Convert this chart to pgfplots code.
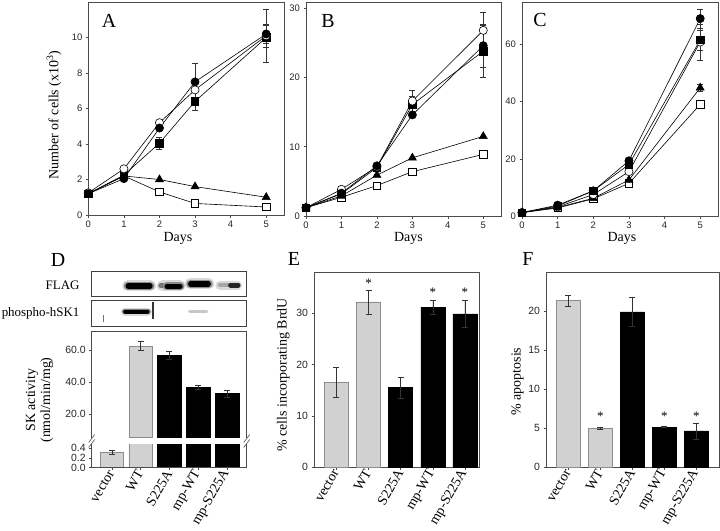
\documentclass[border=0pt]{standalone}
\usepackage{pgfplots}
\pgfplotsset{compat=1.18}
\usepackage{fontspec}
\setmainfont{Liberation Serif}
\newfontfamily\arial{Liberation Sans}
\pgfplotsset{
  basestyle/.style={scale only axis, anchor=north west,
    axis line style={black!70, line width=0.6bp},
    every tick/.style={black!70, line width=0.5bp},
    tick align=outside, major tick length=2.5bp,
    xtick pos=bottom, ytick pos=left,
    /pgf/number format/assume math mode=true,
    tick label style={font=\arial\fontsize{9.5}{11}\selectfont, text=black!85},
  },
  oc/.style={black, line width=0.6bp, mark=*, mark size=4.1bp, mark options={solid, fill=white}},
  fc/.style={black, line width=0.6bp, mark=*, mark size=4.1bp, mark options={solid, fill=black}},
  fs/.style={black, line width=0.6bp, mark=square*, mark size=3.7bp, mark options={solid, fill=black}},
  tr/.style={black, line width=0.6bp, mark=triangle*, mark size=4.6bp, mark options={solid, fill=black}},
  os/.style={black, line width=0.6bp, mark=square*, mark size=3.7bp, mark options={solid, fill=white}},
  errp/.style={forget plot, draw=none, mark=none, error bars/.cd, y dir=both, y explicit,
    error bar style={draw=black!80, line width=0.5bp},
    error mark options={rotate=90, mark size=3bp, draw=black!80, line width=0.5bp}},
  barax/.style={basestyle, xtick={0,...,4}, xticklabels={vector,WT,S225A,mp-WT,mp-S225A},
    tick label style={font=\arial\fontsize{10.5}{12}\selectfont},
    xticklabel style={rotate=60, anchor=east, font=\fontsize{14}{16}\selectfont, text=black, inner sep=1bp}},
  barerr/.style={error bars/.cd, y dir=both, y explicit,
    error bar style={draw=black!80, line width=0.5bp},
    error mark options={rotate=90, mark size=3bp, draw=black!80, line width=0.5bp}},
  graybar/.style={ybar, bar shift=0pt, bar width=#1, fill=black!18, draw=black!45, line width=0.5bp, barerr},
  graybar/.default=24bp,
  blackbar/.style={ybar, bar shift=0pt, bar width=#1, fill=black, draw=black, line width=0.5bp, barerr},
  blackbar/.default=24bp,
  star/.style={draw=none, mark=none, nodes near coords={*},
    every node near coord/.append style={anchor=center, font=\fontsize{13}{13}\selectfont, inner sep=0pt}},
  halo/.style={black!15, line width=#1, line cap=round},
}
\begin{document}
\begin{tikzpicture}[x=1bp,y=1bp]
\path[use as bounding box] (0,0) rectangle (720,-531);

% ---------------- A ----------------
\begin{axis}[basestyle, at={(88.3bp,-2bp)}, width=195.7bp, height=213bp,
  xmin=0, xmax=5.5, ymin=0, ymax=12, xtick={0,...,5}, ytick={0,2,...,10}]
\addplot[errp] coordinates {(2,4.05) +- (0,0.35) (3,6.4) +- (0,0.5) (3,7.5) +- (0,1.05)
  (5,10.1) +- (0,1.5) (5,10.2) +- (0,0.5) (5,10.1) +- (0,0.65)};
\addplot[os] coordinates {(0,1.2) (1,2.2) (2,1.3) (3,0.65) (5,0.45)};
\addplot[tr] coordinates {(0,1.2) (1,2.2) (2,2.0) (3,1.6) (5,1.0)};
\addplot[fs] coordinates {(0,1.2) (1,2.25) (2,4.05) (3,6.4) (5,10.0)};
\addplot[oc] coordinates {(0,1.25) (1,2.6) (2,5.2) (3,7.05) (5,10.1)};
\addplot[fc] coordinates {(0,1.2) (1,2.05) (2,4.9) (3,7.5) (5,10.2)};
\end{axis}

% ---------------- B ----------------
\begin{axis}[basestyle, at={(306bp,-2bp)}, width=195bp, height=214bp,
  xmin=0, xmax=5.5, ymin=0, ymax=30.9, xtick={0,...,5}, ytick={0,10,20,30}]
\addplot[errp] coordinates {(3,16.6) +- (0,1.6) (3,16.1) +- (0,1.2)
  (5,26.8) +- (0,2.6) (5,24.6) +- (0,3.1) (5,23.8) +- (0,3.7)};
\addplot[os] coordinates {(0,1.2) (1,2.7) (2,4.4) (3,6.4) (5,8.9)};
\addplot[tr] coordinates {(0,1.2) (1,2.9) (2,5.9) (3,8.4) (5,11.5)};
\addplot[fs] coordinates {(0,1.2) (1,3.2) (2,7.0) (3,16.1) (5,23.8)};
\addplot[oc] coordinates {(0,1.2) (1,3.85) (2,7.1) (3,16.6) (5,26.8)};
\addplot[fc] coordinates {(0,1.2) (1,3.3) (2,7.25) (3,14.6) (5,24.6)};
\end{axis}

% ---------------- C ----------------
\begin{axis}[basestyle, at={(522bp,-2bp)}, width=196bp, height=214bp,
  xmin=0, xmax=5.5, ymin=0, ymax=74.8, xtick={0,...,5}, ytick={0,20,40,60}]
\addplot[errp] coordinates {(5,69) +- (0,3.4) (5,61.5) +- (0,3.5) (5,60.8) +- (0,6.3) (5,44.8) +- (0,1.2)};
\addplot[os] coordinates {(0,1.2) (1,2.8) (2,6.0) (3,11.4) (5,39.0)};
\addplot[tr] coordinates {(0,1.2) (1,3.0) (2,6.2) (3,12.6) (5,44.8)};
\addplot[oc] coordinates {(0,1.2) (1,3.2) (2,7.5) (3,15.5) (5,60.8)};
\addplot[fs] coordinates {(0,1.2) (1,3.5) (2,8.8) (3,18.0) (5,61.5)};
\addplot[fc] coordinates {(0,1.2) (1,3.8) (2,8.8) (3,19.3) (5,69.0)};
\end{axis}

% ---------------- D blots ----------------
\begin{axis}[scale only axis, anchor=north west, at={(91.7bp,-271bp)}, width=155bp, height=25.7bp,
  xmin=-0.7, xmax=4.68, ymin=0, ymax=1, xtick=\empty, ytick=\empty,
  axis line style={black!75, line width=0.7bp}]
\addplot[halo=11bp] coordinates {(0.55,0.42) (1.34,0.42)};
\addplot[halo=11bp] coordinates {(1.75,0.42) (2.36,0.42)};
\addplot[halo=11bp] coordinates {(2.72,0.50) (3.36,0.50)};
\addplot[halo=9bp] coordinates {(3.75,0.45) (4.36,0.45)};
\addplot[black!45, line width=8bp, line cap=round] coordinates {(0.55,0.42) (1.34,0.42)};
\addplot[black, line width=5.5bp, line cap=round] coordinates {(0.57,0.42) (1.32,0.42)};
\addplot[black!55, line width=5bp, line cap=round] coordinates {(1.7,0.44) (1.9,0.44)};
\addplot[black!45, line width=8bp, line cap=round] coordinates {(1.9,0.40) (2.38,0.40)};
\addplot[black, line width=5.5bp, line cap=round] coordinates {(1.92,0.40) (2.36,0.40)};
\addplot[black!45, line width=8bp, line cap=round] coordinates {(2.72,0.50) (3.36,0.50)};
\addplot[black, line width=5.5bp, line cap=round] coordinates {(2.74,0.50) (3.34,0.50)};
\addplot[black!35, line width=4bp, line cap=round] coordinates {(3.75,0.45) (4.2,0.45)};
\addplot[black!85, line width=5bp, line cap=round] coordinates {(4.12,0.45) (4.38,0.45)};
\end{axis}
\begin{axis}[scale only axis, anchor=north west, at={(91.7bp,-300.7bp)}, width=155bp, height=26bp,
  xmin=-0.7, xmax=4.68, ymin=0, ymax=1, xtick=\empty, ytick=\empty,
  axis line style={black!75, line width=0.7bp}]
\addplot[halo=8bp] coordinates {(0.45,0.58) (1.25,0.58)};
\addplot[black!50, line width=5.5bp, line cap=round] coordinates {(0.45,0.58) (1.25,0.58)};
\addplot[black, line width=3.8bp, line cap=round] coordinates {(0.46,0.58) (1.24,0.58)};
\addplot[black!80, line width=2.5bp] coordinates {(1.43,0.3) (1.43,0.95)};
\addplot[black!22, line width=3bp, line cap=round] coordinates {(2.7,0.58) (3.3,0.58)};
\addplot[black!55, line width=0.8bp] coordinates {(-0.3,0.18) (-0.3,0.45)};
\end{axis}

% ---------------- D bars (broken axis) ----------------
\begin{axis}[barax, name=Dup, at={(91.7bp,-331.7bp)}, width=155bp, height=106bp,
  xmin=-0.7, xmax=4.68, ymin=5.2, ymax=71.4, xtick=\empty,
  ytick={20,40,60}, yticklabels={20.0,40.0,60.0}, axis line style={draw=none}]
\addplot[graybar=23.5bp] coordinates {(1,62.5) +- (0,2.8)};
\addplot[blackbar=23.5bp] coordinates {(2,56.7) +- (0,2.5) (3,36.7) +- (0,1.4) (4,32.7) +- (0,2.1)};
\end{axis}
\begin{axis}[barax, name=Dlow, at={(91.7bp,-444bp)}, width=155bp, height=23.7bp,
  xmin=-0.7, xmax=4.68, ymin=0, ymax=0.49,
  ytick={0,0.2,0.4}, yticklabels={0.0,0.2,0.4}, axis line style={draw=none}]
\addplot[graybar=23.5bp] coordinates {(0,0.325) +- (0,0.04) (1,62.5)};
\addplot[blackbar=23.5bp] coordinates {(2,56.7) (3,36.7) (4,32.7)};
\end{axis}
\draw[black!70, line width=0.6bp] (Dup.south west) -- (Dup.north west) -- (Dup.north east) -- (Dup.south east);
\draw[black!70, line width=0.6bp] (Dlow.north west) -- (Dlow.south west) -- (Dlow.south east) -- (Dlow.north east);
\draw[black!70, line width=0.6bp] (88.7,-442.5) -- (94.7,-434.5) (88.7,-447.5) -- (94.7,-439.5);
\draw[black!70, line width=0.6bp] (243.7,-442.5) -- (249.7,-434.5) (243.7,-447.5) -- (249.7,-439.5);

% ---------------- E ----------------
\begin{axis}[barax, at={(314bp,-272.7bp)}, width=165.3bp, height=194.6bp,
  xmin=-0.7, xmax=4.45, ymin=0, ymax=37.9, ytick={0,10,20,30}]
\addplot[graybar] coordinates {(0,16.6) +- (0,2.9) (1,32.2) +- (0,2.3)};
\addplot[blackbar] coordinates {(2,15.5) +- (0,2.0) (3,31.2) +- (0,1.3) (4,29.9) +- (0,2.6)};
\addplot[star] coordinates {(1,35.9) (3,34.0) (4,34.0)};
\end{axis}

% ---------------- F ----------------
\begin{axis}[barax, at={(546bp,-272.7bp)}, width=173.3bp, height=194.6bp,
  xmin=-0.7, xmax=4.72, ymin=0, ymax=24.9, ytick={0,5,10,15,20}]
\addplot[graybar] coordinates {(0,21.35) +- (0,0.7) (1,5.0) +- (0,0.1)};
\addplot[blackbar] coordinates {(2,19.9) +- (0,1.9) (3,5.15) +- (0,0.06) (4,4.65) +- (0,1.0)};
\addplot[star] coordinates {(1,6.5) (3,6.5) (4,6.5)};
\end{axis}

% ---------------- text ----------------
\begin{scope}[font=\fontsize{20}{20}\selectfont]
\node[anchor=base] at (109,-27.3) {A};
\node[anchor=base] at (328,-27.3) {B};
\node[anchor=base] at (540,-26.7) {C};
\node[anchor=base] at (58,-266.5) {D};
\node[anchor=base] at (294,-266) {E};
\node[anchor=base] at (528,-266) {F};
\end{scope}
\begin{scope}[font=\fontsize{14}{15}\selectfont]
\node[anchor=base] at (178,-241.5) {Days};
\node[anchor=base] at (408.5,-241.5) {Days};
\node[anchor=base] at (622,-241.5) {Days};
\node[rotate=90] at (54,-115) {Number of cells (x10\textsuperscript{3})};
\node[rotate=90, align=center] at (39.5,-400) {SK activity\\(nmol/min/mg)};
\node[rotate=90] at (283.3,-375) {\% cells incorporating BrdU};
\node[rotate=90] at (517.5,-381.5) {\% apoptosis};
\end{scope}
\begin{scope}[font=\fontsize{13}{13}\selectfont]
\node[anchor=base east] at (83,-289.3) {FLAG};
\node[anchor=base east] at (83,-316.7) {phospho-hSK1};
\end{scope}
\end{tikzpicture}
\end{document}
